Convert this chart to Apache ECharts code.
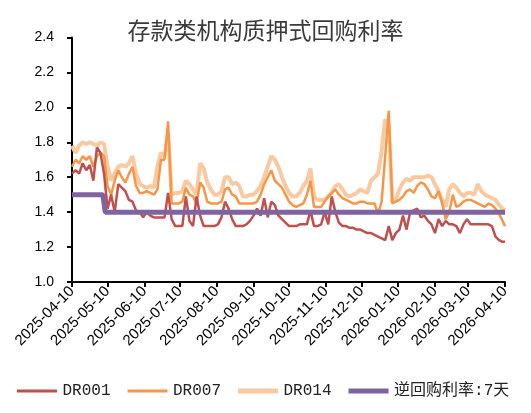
<!DOCTYPE html>
<html>
<head>
<meta charset="utf-8">
<script src="https://cdn.jsdelivr.net/npm/echarts@6/dist/echarts.min.js"></script>
<style>html,body{margin:0;padding:0;background:#fff;}#c{width:531px;height:413px;}</style>
</head>
<body>
<div id="c"></div>
<script>
const dates = ['2025-04-10','2025-04-13','2025-04-16','2025-04-19','2025-04-22','2025-04-25','2025-04-28','2025-05-01','2025-05-04','2025-05-07',
'2025-05-10','2025-05-13','2025-05-16','2025-05-19','2025-05-22','2025-05-25','2025-05-28','2025-05-31','2025-06-03','2025-06-06',
'2025-06-09','2025-06-12','2025-06-15','2025-06-18','2025-06-21','2025-06-24','2025-06-27','2025-06-30','2025-07-03','2025-07-06',
'2025-07-09','2025-07-12','2025-07-15','2025-07-18','2025-07-21','2025-07-24','2025-07-27','2025-07-30','2025-08-02','2025-08-05',
'2025-08-08','2025-08-11','2025-08-14','2025-08-17','2025-08-20','2025-08-23','2025-08-26','2025-08-29','2025-09-01','2025-09-04',
'2025-09-07','2025-09-10','2025-09-13','2025-09-16','2025-09-19','2025-09-22','2025-09-25','2025-09-28','2025-10-01','2025-10-04',
'2025-10-07','2025-10-10','2025-10-13','2025-10-16','2025-10-19','2025-10-22','2025-10-25','2025-10-28','2025-10-31','2025-11-03',
'2025-11-06','2025-11-09','2025-11-12','2025-11-15','2025-11-18','2025-11-21','2025-11-24','2025-11-27','2025-11-30','2025-12-03',
'2025-12-06','2025-12-09','2025-12-12','2025-12-15','2025-12-18','2025-12-21','2025-12-24','2025-12-27','2025-12-30','2026-01-02',
'2026-01-05','2026-01-08','2026-01-11','2026-01-14','2026-01-17','2026-01-20','2026-01-23','2026-01-26','2026-01-29','2026-02-01',
'2026-02-04','2026-02-07','2026-02-10','2026-02-13','2026-02-16','2026-02-19','2026-02-22','2026-02-25','2026-02-28','2026-03-03',
'2026-03-06','2026-03-09','2026-03-12','2026-03-15','2026-03-18','2026-03-21','2026-03-24','2026-03-27','2026-03-30','2026-04-02',
'2026-04-05','2026-04-08','2026-04-10'];

const dr001 = [1.62,1.64,1.62,1.68,1.64,1.67,1.58,1.77,1.74,1.62,
1.42,1.50,1.40,1.56,1.54,1.52,1.47,1.46,1.41,1.40,
1.37,1.40,1.38,1.37,1.37,1.37,1.37,1.51,1.36,1.32,
1.32,1.32,1.49,1.35,1.32,1.49,1.38,1.32,1.32,1.32,
1.32,1.33,1.37,1.46,1.42,1.36,1.32,1.32,1.32,1.33,
1.35,1.38,1.42,1.38,1.48,1.37,1.46,1.44,1.38,1.36,
1.34,1.32,1.32,1.32,1.33,1.33,1.33,1.41,1.32,1.32,
1.33,1.40,1.33,1.49,1.40,1.34,1.32,1.32,1.31,1.31,
1.30,1.30,1.29,1.28,1.28,1.27,1.26,1.25,1.24,1.32,
1.24,1.28,1.30,1.38,1.30,1.40,1.41,1.42,1.37,1.38,
1.35,1.33,1.28,1.36,1.32,1.35,1.33,1.33,1.32,1.28,
1.33,1.36,1.33,1.33,1.33,1.33,1.33,1.33,1.32,1.26,
1.24,1.23,1.23];

const dr007 = [1.66,1.70,1.68,1.72,1.70,1.72,1.66,1.72,1.74,1.72,
1.55,1.50,1.58,1.64,1.60,1.57,1.62,1.66,1.55,1.51,
1.51,1.52,1.51,1.50,1.53,1.70,1.70,1.92,1.45,1.45,
1.45,1.46,1.54,1.50,1.49,1.45,1.57,1.54,1.46,1.45,
1.45,1.45,1.46,1.53,1.54,1.50,1.49,1.45,1.45,1.45,
1.45,1.45,1.46,1.50,1.56,1.60,1.64,1.58,1.56,1.54,
1.50,1.46,1.44,1.43,1.44,1.45,1.50,1.58,1.43,1.43,
1.43,1.46,1.49,1.51,1.53,1.50,1.48,1.47,1.46,1.45,
1.45,1.46,1.46,1.45,1.45,1.45,1.39,1.46,1.72,1.98,
1.45,1.46,1.47,1.49,1.52,1.53,1.51,1.55,1.57,1.56,
1.53,1.49,1.48,1.52,1.45,1.36,1.40,1.50,1.43,1.44,
1.46,1.47,1.47,1.46,1.45,1.44,1.43,1.45,1.44,1.42,
1.39,1.35,1.32];

const dr014 = [1.78,1.74,1.78,1.80,1.79,1.80,1.79,1.78,1.80,1.79,
1.66,1.58,1.62,1.66,1.67,1.66,1.68,1.72,1.62,1.56,
1.55,1.54,1.55,1.54,1.66,1.74,1.72,1.85,1.50,1.51,
1.51,1.52,1.58,1.56,1.53,1.50,1.68,1.65,1.57,1.53,
1.50,1.50,1.52,1.60,1.60,1.56,1.57,1.55,1.49,1.49,
1.50,1.50,1.52,1.55,1.60,1.66,1.72,1.70,1.66,1.60,
1.55,1.51,1.49,1.49,1.51,1.55,1.58,1.65,1.49,1.47,
1.47,1.47,1.49,1.51,1.55,1.56,1.53,1.50,1.49,1.50,
1.51,1.53,1.52,1.51,1.58,1.60,1.62,1.75,1.93,1.90,
1.46,1.47,1.53,1.57,1.59,1.58,1.60,1.60,1.60,1.60,
1.61,1.60,1.56,1.52,1.47,1.43,1.53,1.56,1.54,1.51,
1.49,1.51,1.51,1.50,1.56,1.52,1.50,1.49,1.48,1.47,
1.44,1.42,1.41];

const repoDates = ['2025-04-10','2025-05-06','2025-05-08','2026-04-10'];
const repoRate = [1.5,1.5,1.4,1.4];

const tickDates = ['2025-04-10','2025-05-10','2025-06-10','2025-07-10','2025-08-10','2025-09-10','2025-10-10',
'2025-11-10','2025-12-10','2026-01-10','2026-02-10','2026-03-10','2026-04-10'];

const seriesNames = ['DR001','DR007','DR014','逆回购利率:7天'];

function ts(s){ const p = s.split('-'); return Date.UTC(+p[0], +p[1]-1, +p[2]); }
function pairs(ds, vs){ return ds.map((d,i)=>[ts(d), vs[i]]); }
function fmt(v){ const d = new Date(v); const m = d.getUTCMonth()+1, dd = d.getUTCDate();
  return d.getUTCFullYear() + '-' + (m<10?'0':'') + m + '-' + (dd<10?'0':'') + dd; }

// legend icons: thin band vs thick band inside the same 7px-high box
const thinIcon = 'path://M0,0L40,0L40,0.01L0,0.01Z M0,2H40V5H0Z M0,6.99L40,6.99L40,7L0,7Z';
const thickIcon = 'path://M0,0L40,0L40,0.01L0,0.01Z M0,1H40V6H0Z M0,6.99L40,6.99L40,7L0,7Z';
const legendIcons = [thinIcon, thinIcon, thickIcon, thickIcon];

const tickTs = tickDates.map(ts);
const chart = echarts.init(document.getElementById('c'), null, {renderer:'canvas'});
chart.setOption({
  animation:false,
  backgroundColor:'#fff',
  title:{text:'存款类机构质押式回购利率', left:'center', top:14,
    textStyle:{fontFamily:'Noto Sans CJK SC', fontSize:23, fontWeight:'normal', color:'#3a3a3a'}},
  grid:{left:72, right:26, top:37.5, bottom:131, containLabel:false},
  legend:{top:378, left:12, itemWidth:41, itemHeight:7, itemGap:17,
    itemStyle:{borderWidth:0},
    textStyle:{fontFamily:'Liberation Mono, Noto Sans CJK SC', fontSize:16, color:'#222'},
    data:seriesNames.map((n,i)=>({name:n, icon:legendIcons[i]}))},
  xAxis:{type:'value', min:tickTs[0], max:tickTs[tickTs.length-1],
    splitLine:{show:false},
    axisLine:{lineStyle:{color:'#000', width:2}},
    axisTick:{show:true, length:5, lineStyle:{color:'#000', width:2}, customValues:tickTs},
    axisLabel:{customValues:tickTs, rotate:45, formatter:fmt, color:'#000', fontSize:15,
      fontFamily:'Liberation Sans, Arial', margin:7, showMinLabel:true, showMaxLabel:true, hideOverlap:false}},
  yAxis:{type:'value', min:1.0, max:2.4, interval:0.2,
    splitLine:{show:false},
    axisLine:{show:true, lineStyle:{color:'#000', width:2}},
    axisTick:{show:true, length:5, lineStyle:{color:'#000', width:2}},
    axisLabel:{formatter:v=>v.toFixed(1), color:'#000', fontSize:14, fontFamily:'Liberation Sans, Arial', margin:18}},
  series:[
    {name:'DR001', type:'line', data:pairs(dates, dr001), symbol:'none', z:4,
      lineStyle:{color:'#C0504D', width:2.5}, itemStyle:{color:'#C0504D'}},
    {name:'DR007', type:'line', data:pairs(dates, dr007), symbol:'none', z:3,
      lineStyle:{color:'#F79646', width:2.5}, itemStyle:{color:'#F79646'}},
    {name:'DR014', type:'line', data:pairs(dates, dr014), symbol:'none', z:2,
      lineStyle:{color:'#FAC9A0', width:4}, itemStyle:{color:'#FAC9A0'}},
    {name:'逆回购利率:7天', type:'line', data:pairs(repoDates, repoRate), symbol:'none', z:5,
      lineStyle:{color:'#8064A2', width:5}, itemStyle:{color:'#8064A2'}}
  ]
});
</script>
</body>
</html>
